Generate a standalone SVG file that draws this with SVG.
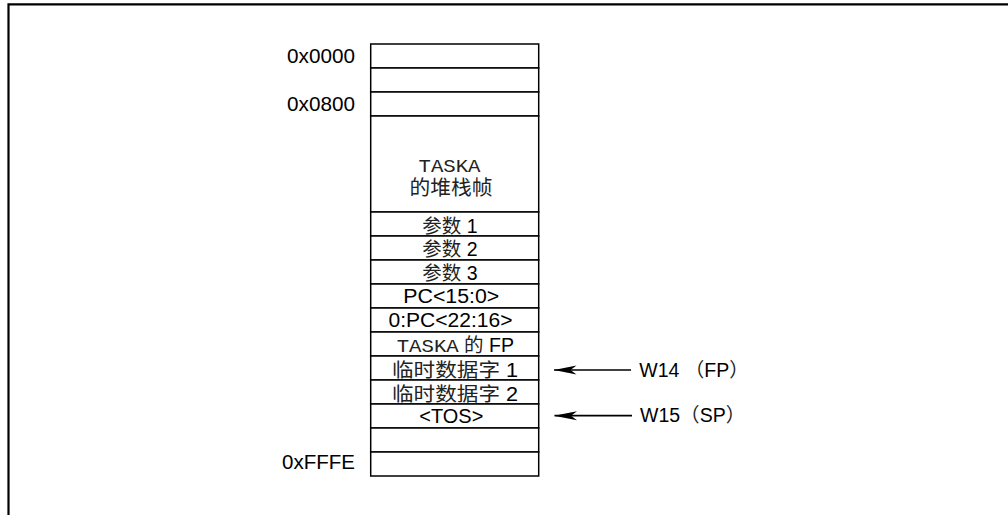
<svg xmlns="http://www.w3.org/2000/svg" width="1008" height="515" viewBox="0 0 1008 515">
<style>
.frame{fill:none;stroke:#000;stroke-width:2.2}
.cell{fill:#fff;stroke:#000;stroke-width:1.5}
.t{font-family:"Liberation Sans","Noto Sans CJK SC",sans-serif;font-size:19.5px;fill:#000}
.c{font-family:"Noto Sans CJK SC",sans-serif;font-size:19.5px;fill:#222}
.m{font-family:"Liberation Mono","Noto Sans CJK SC",monospace;font-size:18px;fill:#222}
.mid{text-anchor:middle}
.end{text-anchor:end}
.conn{stroke:#000;stroke-width:1.7;fill:none}
</style>
<defs>
<marker id="ah" viewBox="0 0 23 10" refX="22.5" refY="5" markerWidth="23" markerHeight="10" markerUnits="userSpaceOnUse" orient="auto">
<path d="M23,5 L0,0.5 L6,5 L0,9.5 Z" fill="#000"/>
</marker>
</defs>
<rect width="1008" height="515" fill="#fff"/>
<path class="frame" d="M8.5,515 V4.3 H1008"/>

<g id="addresses">
<text class="t end" x="355" y="63.3" textLength="68" lengthAdjust="spacingAndGlyphs">0x0000</text>
<text class="t end" x="355" y="110.5" textLength="68" lengthAdjust="spacingAndGlyphs">0x0800</text>
<text class="t end" x="355" y="469.3" textLength="73" lengthAdjust="spacingAndGlyphs">0xFFFE</text>
</g>

<g id="stack">
<g id="row-0000"><rect class="cell" x="370.7" y="44" width="168" height="24"/></g>
<g id="row-blank1"><rect class="cell" x="370.7" y="68" width="168" height="24"/></g>
<g id="row-0800"><rect class="cell" x="370.7" y="92" width="168" height="24"/></g>
<g id="taska-frame"><rect class="cell" x="370.7" y="116" width="168" height="96"/>
<text class="m mid" x="449.5" y="171.7" textLength="62" lengthAdjust="spacingAndGlyphs">TASKA</text>
<text class="c mid" x="451" y="195" textLength="83" lengthAdjust="spacingAndGlyphs" style="font-size:20.5px">的堆栈帧</text>
</g>
<g id="param1"><rect class="cell" x="370.7" y="212" width="168" height="24"/>
<text class="t mid" x="450" y="232.5"><tspan class="c">参数</tspan> 1</text></g>
<g id="param2"><rect class="cell" x="370.7" y="236" width="168" height="24"/>
<text class="t mid" x="450" y="256"><tspan class="c">参数</tspan> 2</text></g>
<g id="param3"><rect class="cell" x="370.7" y="260" width="168" height="24"/>
<text class="t mid" x="450" y="280"><tspan class="c">参数</tspan> 3</text></g>
<g id="pc-low"><rect class="cell" x="370.7" y="284" width="168" height="24"/>
<text class="t mid" x="451.3" y="303" textLength="96" lengthAdjust="spacingAndGlyphs">PC&lt;15:0&gt;</text></g>
<g id="pc-high"><rect class="cell" x="370.7" y="308" width="168" height="24"/>
<text class="t mid" x="450.5" y="327" textLength="124" lengthAdjust="spacingAndGlyphs">0:PC&lt;22:16&gt;</text></g>
<g id="taska-fp"><rect class="cell" x="370.7" y="332" width="168" height="24"/>
<text class="t" x="396.7" y="351.5"><tspan class="m" textLength="62" lengthAdjust="spacingAndGlyphs">TASKA</tspan> <tspan class="c">的</tspan> FP</text></g>
<g id="temp1"><rect class="cell" x="370.7" y="356" width="168" height="24"/>
<text class="t mid" x="455" y="376.5" textLength="126" lengthAdjust="spacingAndGlyphs"><tspan class="c">临时数据字</tspan> 1</text></g>
<g id="temp2"><rect class="cell" x="370.7" y="380" width="168" height="24"/>
<text class="t mid" x="455" y="400.5" textLength="126" lengthAdjust="spacingAndGlyphs"><tspan class="c">临时数据字</tspan> 2</text></g>
<g id="tos"><rect class="cell" x="370.7" y="404" width="168" height="24"/>
<text class="t mid" x="451.3" y="423.3" textLength="64" lengthAdjust="spacingAndGlyphs">&lt;TOS&gt;</text></g>
<g id="row-blank2"><rect class="cell" x="370.7" y="428" width="168" height="24"/></g>
<g id="row-fffe"><rect class="cell" x="370.7" y="452" width="168" height="24"/></g>
</g>

<g id="connectors">
<line class="conn" x1="631" y1="370" x2="554" y2="370" marker-end="url(#ah)"/>
<line class="conn" x1="632" y1="415.7" x2="554.5" y2="415.7" marker-end="url(#ah)"/>
</g>

<g id="w14"><text class="t" x="639.3" y="377.3">W14 <tspan class="c">（</tspan>FP<tspan class="c">）</tspan></text></g>
<g id="w15"><text class="t" x="640" y="421.7">W15<tspan class="c">（</tspan>SP<tspan class="c">）</tspan></text></g>
</svg>
